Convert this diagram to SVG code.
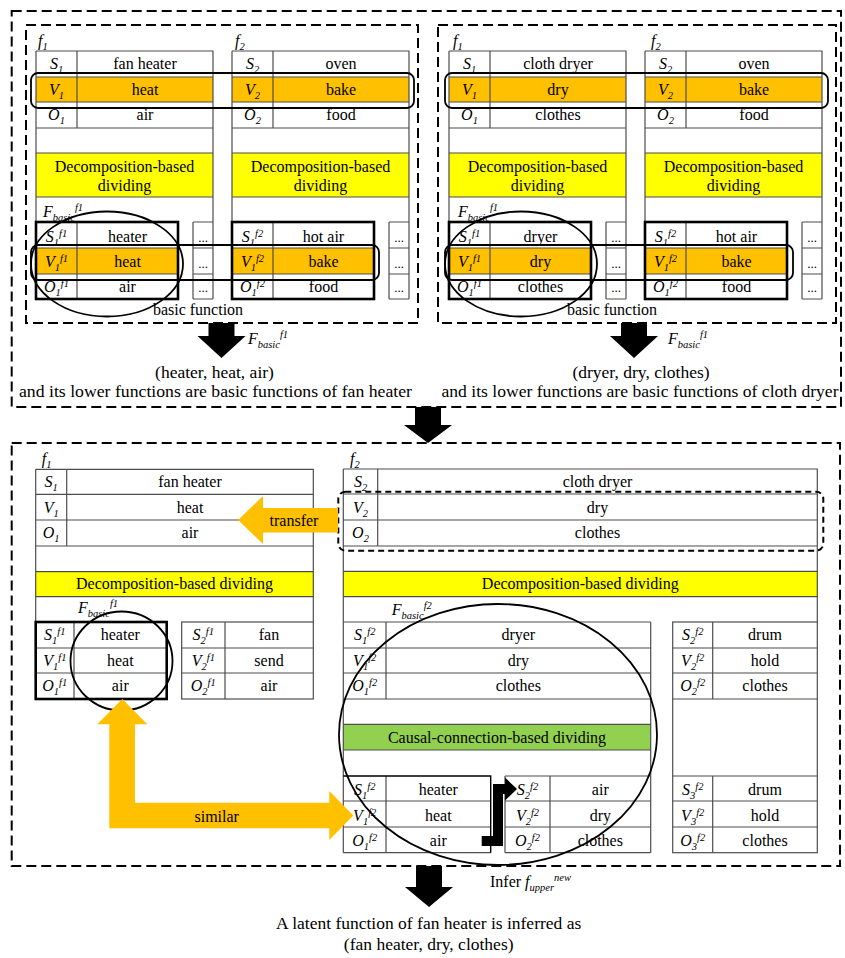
<svg xmlns="http://www.w3.org/2000/svg" width="845" height="958" viewBox="0 0 845 958" font-family="'Liberation Serif', 'Times New Roman', 'DejaVu Serif', serif">
<style>
text{font-family:'Liberation Serif','Times New Roman','DejaVu Serif',serif;font-size:16px;fill:#000;text-anchor:middle}
.it{font-style:italic}
.st{text-anchor:start}
.sm{font-size:10.5px}
.dot{font-size:13px}
.big{font-size:17.5px}
.ln{stroke:#4d4d4d;stroke-width:1.2;fill:none}
.bk{stroke:#000;stroke-width:1.4;fill:none}
.bold{stroke:#000;stroke-width:2.6;fill:none}
.dash{stroke:#000;stroke-width:2;fill:none;stroke-dasharray:10 5}
.dash2{stroke:#000;stroke-width:2;fill:none;stroke-dasharray:6 4}
.rr{stroke:#000;stroke-width:1.8;fill:none}
.or{fill:#FFC000}
.ye{fill:#FFFF00}
.gr{fill:#92D050}
.ring{fill:none;stroke:#000;stroke-width:1.8}
.wh{fill:#fff}
.blk{fill:#000}
</style>
<defs>
<g id="tt">
 <rect x="0" y="0" width="177" height="248" class="wh"/>
 <rect x="0" y="26" width="177" height="25" class="or"/>
 <rect x="0" y="102" width="177" height="44" class="ye"/>
 <rect x="0" y="197" width="142" height="26" class="or"/>
 <path class="ln" d="M0 0H177V248M0 0V248M0 26H177M0 51H177M0 77H177M0 102H177M0 146H177M41 0V77M0 197H142M0 223H142M41 171V248M157 171H177M157 197H177M157 223H177M157 248H177M157 171V248"/>
 <rect x="0" y="171" width="142" height="77" class="bold"/>
</g>
</defs>
<rect x="0" y="0" width="845" height="958" fill="#fff"/>

<g id="frames">
 <rect class="dash" x="11.7" y="11" width="829.3" height="396"/>
 <rect class="dash" x="26" y="25" width="392" height="298"/>
 <rect class="dash" x="438" y="25" width="398" height="298"/>
 <rect class="dash" x="11.7" y="443" width="828.3" height="423"/>
</g>

<!-- top-left panel -->
<g id="tl-labels">
 <text class="it st" x="38" y="46">f<tspan class="sm" dy="4">1</tspan></text>
 <text class="it st" x="235" y="46">f<tspan class="sm" dy="4">2</tspan></text>
</g>
<g id="tl-f1" transform="translate(36,51)">
 <use href="#tt"/>
 <text class="it" x="20.5" y="18">S<tspan class="sm" dy="4">1</tspan></text>
 <text x="109" y="18">fan heater</text>
 <text class="it" x="20.5" y="43.5">V<tspan class="sm" dy="4">1</tspan></text>
 <text x="109" y="43.5">heat</text>
 <text class="it" x="20.5" y="69">O<tspan class="sm" dy="4">1</tspan></text>
 <text x="109" y="69">air</text>
 <text x="88.5" y="120.5">Decomposition-based</text>
 <text x="88.5" y="139.5">dividing</text>
 <text class="it st" x="7" y="165.5">F<tspan class="sm" dy="4">basic</tspan><tspan class="sm" dy="-10">f1</tspan></text>
 <text class="it" x="20.5" y="190.5">S<tspan class="sm" dy="4">1</tspan><tspan class="sm" dy="-9">f1</tspan></text>
 <text x="91.5" y="190.5">heater</text>
 <text class="it" x="20.5" y="216">V<tspan class="sm" dy="4">1</tspan><tspan class="sm" dy="-9">f1</tspan></text>
 <text x="91.5" y="216">heat</text>
 <text class="it" x="20.5" y="240.5">O<tspan class="sm" dy="4">1</tspan><tspan class="sm" dy="-9">f1</tspan></text>
 <text x="91.5" y="240.5">air</text>
 <text class="dot" x="167" y="191">...</text>
 <text class="dot" x="167" y="216.5">...</text>
 <text class="dot" x="167" y="241">...</text>
</g>
<g id="tl-f2" transform="translate(232,51)">
 <use href="#tt"/>
 <text class="it" x="20.5" y="18">S<tspan class="sm" dy="4">2</tspan></text>
 <text x="109" y="18">oven</text>
 <text class="it" x="20.5" y="43.5">V<tspan class="sm" dy="4">2</tspan></text>
 <text x="109" y="43.5">bake</text>
 <text class="it" x="20.5" y="69">O<tspan class="sm" dy="4">2</tspan></text>
 <text x="109" y="69">food</text>
 <text x="88.5" y="120.5">Decomposition-based</text>
 <text x="88.5" y="139.5">dividing</text>
 <text class="it" x="20.5" y="190.5">S<tspan class="sm" dy="4">1</tspan><tspan class="sm" dy="-9">f2</tspan></text>
 <text x="91.5" y="190.5">hot air</text>
 <text class="it" x="20.5" y="216">V<tspan class="sm" dy="4">1</tspan><tspan class="sm" dy="-9">f2</tspan></text>
 <text x="91.5" y="216">bake</text>
 <text class="it" x="20.5" y="240.5">O<tspan class="sm" dy="4">1</tspan><tspan class="sm" dy="-9">f2</tspan></text>
 <text x="91.5" y="240.5">food</text>
 <text class="dot" x="167" y="191">...</text>
 <text class="dot" x="167" y="216.5">...</text>
 <text class="dot" x="167" y="241">...</text>
</g>
<g id="tl-marks">
 <rect class="rr" x="31" y="73" width="383" height="35" rx="7"/>
 <rect class="rr" x="31" y="245" width="348" height="35" rx="7"/>
 <ellipse class="ring" cx="107" cy="264" rx="76" ry="52.5"/>
 <text x="198" y="315">basic function</text>
</g>

<!-- top-right panel -->
<g id="tr-labels">
 <text class="it st" x="453" y="46">f<tspan class="sm" dy="4">1</tspan></text>
 <text class="it st" x="651" y="46">f<tspan class="sm" dy="4">2</tspan></text>
</g>
<g id="tr-f1" transform="translate(449,51)">
 <use href="#tt"/>
 <text class="it" x="20.5" y="18">S<tspan class="sm" dy="4">1</tspan></text>
 <text x="109" y="18">cloth dryer</text>
 <text class="it" x="20.5" y="43.5">V<tspan class="sm" dy="4">1</tspan></text>
 <text x="109" y="43.5">dry</text>
 <text class="it" x="20.5" y="69">O<tspan class="sm" dy="4">1</tspan></text>
 <text x="109" y="69">clothes</text>
 <text x="88.5" y="120.5">Decomposition-based</text>
 <text x="88.5" y="139.5">dividing</text>
 <text class="it st" x="9" y="165.5">F<tspan class="sm" dy="4">basic</tspan><tspan class="sm" dy="-10">f1</tspan></text>
 <text class="it" x="20.5" y="190.5">S<tspan class="sm" dy="4">1</tspan><tspan class="sm" dy="-9">f1</tspan></text>
 <text x="91.5" y="190.5">dryer</text>
 <text class="it" x="20.5" y="216">V<tspan class="sm" dy="4">1</tspan><tspan class="sm" dy="-9">f1</tspan></text>
 <text x="91.5" y="216">dry</text>
 <text class="it" x="20.5" y="240.5">O<tspan class="sm" dy="4">1</tspan><tspan class="sm" dy="-9">f1</tspan></text>
 <text x="91.5" y="240.5">clothes</text>
 <text class="dot" x="167" y="191">...</text>
 <text class="dot" x="167" y="216.5">...</text>
 <text class="dot" x="167" y="241">...</text>
</g>
<g id="tr-f2" transform="translate(645,51)">
 <use href="#tt"/>
 <text class="it" x="20.5" y="18">S<tspan class="sm" dy="4">2</tspan></text>
 <text x="109" y="18">oven</text>
 <text class="it" x="20.5" y="43.5">V<tspan class="sm" dy="4">2</tspan></text>
 <text x="109" y="43.5">bake</text>
 <text class="it" x="20.5" y="69">O<tspan class="sm" dy="4">2</tspan></text>
 <text x="109" y="69">food</text>
 <text x="88.5" y="120.5">Decomposition-based</text>
 <text x="88.5" y="139.5">dividing</text>
 <text class="it" x="20.5" y="190.5">S<tspan class="sm" dy="4">1</tspan><tspan class="sm" dy="-9">f2</tspan></text>
 <text x="91.5" y="190.5">hot air</text>
 <text class="it" x="20.5" y="216">V<tspan class="sm" dy="4">1</tspan><tspan class="sm" dy="-9">f2</tspan></text>
 <text x="91.5" y="216">bake</text>
 <text class="it" x="20.5" y="240.5">O<tspan class="sm" dy="4">1</tspan><tspan class="sm" dy="-9">f2</tspan></text>
 <text x="91.5" y="240.5">food</text>
 <text class="dot" x="167" y="191">...</text>
 <text class="dot" x="167" y="216.5">...</text>
 <text class="dot" x="167" y="241">...</text>
</g>
<g id="tr-marks">
 <rect class="rr" x="445" y="73" width="383" height="35" rx="7"/>
 <rect class="rr" x="445" y="245" width="348" height="35" rx="7"/>
 <ellipse class="ring" cx="521" cy="264" rx="76" ry="52.5"/>
 <text x="612" y="315">basic function</text>
</g>

<!-- middle results -->
<g id="mid-left">
 <text class="it st" x="248" y="344">F<tspan class="sm" dy="4">basic</tspan><tspan class="sm" dy="-10">f1</tspan></text>
 <text class="big" x="214.5" y="378">(heater, heat, air)</text>
 <text class="big" x="215.5" y="396.5" textLength="393" lengthAdjust="spacingAndGlyphs">and its lower functions are basic functions of fan heater</text>
</g>
<g id="mid-right">
 <text class="it st" x="668" y="344">F<tspan class="sm" dy="4">basic</tspan><tspan class="sm" dy="-10">f1</tspan></text>
 <text class="big" x="641" y="378">(dryer, dry, clothes)</text>
 <text class="big" x="640" y="396.5" textLength="397" lengthAdjust="spacingAndGlyphs">and its lower functions are basic functions of cloth dryer</text>
</g>

<!-- bottom left f1 -->
<g id="b-f1">
 <text class="it st" x="41.7" y="464">f<tspan class="sm" dy="4">1</tspan></text>
 <rect x="35.7" y="571.7" width="277.6" height="25" class="ye"/>
 <path class="ln" d="M35.7 469.3H313.3V622M35.7 469.3V622M35.7 494.3H313.3M35.7 520H313.3M35.7 546H313.3M35.7 571.7H313.3M35.7 596.7H313.3M66.7 469.3V546"/>
 <path class="ln" d="M35.7 648H166.7M35.7 673H166.7M74 622V699"/>
 <rect class="ln" x="181.7" y="622" width="131.6" height="77"/>
 <path class="ln" d="M181.7 648H313.3M181.7 673H313.3M225 622V699"/>
 <rect class="bold" x="35.7" y="622" width="131" height="77"/>
 <text class="it" x="51.2" y="486.7">S<tspan class="sm" dy="4">1</tspan></text>
 <text x="190" y="486.7">fan heater</text>
 <text class="it" x="51.2" y="512.7">V<tspan class="sm" dy="4">1</tspan></text>
 <text x="190" y="512.7">heat</text>
 <text class="it" x="51.2" y="538.3">O<tspan class="sm" dy="4">1</tspan></text>
 <text x="190" y="538.3">air</text>
 <text x="174.5" y="589.3">Decomposition-based dividing</text>
 <text class="it st" x="78" y="613">F<tspan class="sm" dy="4">basic</tspan><tspan class="sm" dy="-10">f1</tspan></text>
 <text class="it" x="54.8" y="640">S<tspan class="sm" dy="4">1</tspan><tspan class="sm" dy="-9">f1</tspan></text>
 <text x="120.3" y="640">heater</text>
 <text class="it" x="54.8" y="666">V<tspan class="sm" dy="4">1</tspan><tspan class="sm" dy="-9">f1</tspan></text>
 <text x="120.3" y="666">heat</text>
 <text class="it" x="54.8" y="690.7">O<tspan class="sm" dy="4">1</tspan><tspan class="sm" dy="-9">f1</tspan></text>
 <text x="120.3" y="690.7">air</text>
 <text class="it" x="203.3" y="640">S<tspan class="sm" dy="4">2</tspan><tspan class="sm" dy="-9">f1</tspan></text>
 <text x="269" y="640">fan</text>
 <text class="it" x="203.3" y="666">V<tspan class="sm" dy="4">2</tspan><tspan class="sm" dy="-9">f1</tspan></text>
 <text x="269" y="666">send</text>
 <text class="it" x="203.3" y="690.7">O<tspan class="sm" dy="4">2</tspan><tspan class="sm" dy="-9">f1</tspan></text>
 <text x="269" y="690.7">air</text>
</g>

<!-- bottom right f2 -->
<g id="b-f2">
 <text class="it st" x="350" y="464">f<tspan class="sm" dy="4">2</tspan></text>
 <rect x="343.3" y="571.3" width="474" height="25.4" class="ye"/>
 <path class="ln" d="M343.3 469H817.3V622M343.3 469V622M343.3 494H817.3M343.3 520H817.3M343.3 546H817.3M343.3 571.3H817.3M343.3 596.7H817.3M377.7 469V546"/>
 <rect x="343.3" y="724.3" width="307.4" height="25.7" class="gr"/>
 <path class="ln" d="M343.3 622V852.7M650.7 622V852.7M343.3 622H650.7M343.3 648H650.7M343.3 673H650.7M343.3 699H650.7M386 622V699M343.3 724.3H650.7M343.3 750H650.7"/>
 <path class="ln" d="M343.3 801H490.7M343.3 827H490.7M386 776V852.7M343.3 852.7H490.7"/>
 <path class="bk" d="M343.3 776H490.7V852.7"/>
 <path class="ln" d="M505 776H650.7M505 801H650.7M505 827H650.7M505 852.7H650.7M505 776V852.7M550 776V852.7"/>
 <rect class="ln" x="672.7" y="622" width="144.6" height="230.7"/>
 <path class="ln" d="M672.7 648H817.3M672.7 673H817.3M672.7 699H817.3M712.7 622V699M672.7 776H817.3M672.7 801H817.3M672.7 827H817.3M712.7 776V852.7"/>
 <text class="it" x="360.5" y="486.7">S<tspan class="sm" dy="4">2</tspan></text>
 <text x="597.5" y="486.7">cloth dryer</text>
 <text class="it" x="360.5" y="512.7">V<tspan class="sm" dy="4">2</tspan></text>
 <text x="597.5" y="512.7">dry</text>
 <text class="it" x="360.5" y="538.3">O<tspan class="sm" dy="4">2</tspan></text>
 <text x="597.5" y="538.3">clothes</text>
 <text x="580.3" y="589.3">Decomposition-based dividing</text>
 <text class="it st" x="391.7" y="615">F<tspan class="sm" dy="4">basic</tspan><tspan class="sm" dy="-10">f2</tspan></text>
 <text class="it" x="364.7" y="640">S<tspan class="sm" dy="4">1</tspan><tspan class="sm" dy="-9">f2</tspan></text>
 <text x="518.3" y="640">dryer</text>
 <text class="it" x="364.7" y="666">V<tspan class="sm" dy="4">1</tspan><tspan class="sm" dy="-9">f2</tspan></text>
 <text x="518.3" y="666">dry</text>
 <text class="it" x="364.7" y="690.7">O<tspan class="sm" dy="4">1</tspan><tspan class="sm" dy="-9">f2</tspan></text>
 <text x="518.3" y="690.7">clothes</text>
 <text class="it" x="692.7" y="640">S<tspan class="sm" dy="4">2</tspan><tspan class="sm" dy="-9">f2</tspan></text>
 <text x="765" y="640">drum</text>
 <text class="it" x="692.7" y="666">V<tspan class="sm" dy="4">2</tspan><tspan class="sm" dy="-9">f2</tspan></text>
 <text x="765" y="666">hold</text>
 <text class="it" x="692.7" y="690.7">O<tspan class="sm" dy="4">2</tspan><tspan class="sm" dy="-9">f2</tspan></text>
 <text x="765" y="690.7">clothes</text>
 <text x="497" y="743.3">Causal-connection-based dividing</text>
 <text class="it" x="364.7" y="795">S<tspan class="sm" dy="4">1</tspan><tspan class="sm" dy="-9">f2</tspan></text>
 <text x="438.3" y="795">heater</text>
 <text class="it" x="364.7" y="820.5">V<tspan class="sm" dy="4">1</tspan><tspan class="sm" dy="-9">f2</tspan></text>
 <text x="438.3" y="820.5">heat</text>
 <text class="it" x="364.7" y="846">O<tspan class="sm" dy="4">1</tspan><tspan class="sm" dy="-9">f2</tspan></text>
 <text x="438.3" y="846">air</text>
 <text class="it" x="527.5" y="795">S<tspan class="sm" dy="4">2</tspan><tspan class="sm" dy="-9">f2</tspan></text>
 <text x="600.3" y="795">air</text>
 <text class="it" x="527.5" y="820.5">V<tspan class="sm" dy="4">2</tspan><tspan class="sm" dy="-9">f2</tspan></text>
 <text x="600.3" y="820.5">dry</text>
 <text class="it" x="527.5" y="846">O<tspan class="sm" dy="4">2</tspan><tspan class="sm" dy="-9">f2</tspan></text>
 <text x="600.3" y="846">clothes</text>
 <text class="it" x="692.7" y="795">S<tspan class="sm" dy="4">3</tspan><tspan class="sm" dy="-9">f2</tspan></text>
 <text x="765" y="795">drum</text>
 <text class="it" x="692.7" y="820.5">V<tspan class="sm" dy="4">3</tspan><tspan class="sm" dy="-9">f2</tspan></text>
 <text x="765" y="820.5">hold</text>
 <text class="it" x="692.7" y="846">O<tspan class="sm" dy="4">3</tspan><tspan class="sm" dy="-9">f2</tspan></text>
 <text x="765" y="846">clothes</text>
</g>

<g id="b-marks">
 <rect class="dash2" x="338.3" y="491.7" width="485" height="59" rx="7"/>
 <ellipse class="ring" cx="121.5" cy="661" rx="51" ry="49.5"/>
 <ellipse class="ring" cx="498" cy="734.5" rx="159" ry="130.5"/>
</g>

<g id="connectors">
 <polygon class="blk" points="208.5,323 234.5,323 234.5,336 245.5,336 221.5,358 197.5,336 208.5,336"/>
 <polygon class="blk" points="621,323 647,323 647,336 658,336 634,358 610,336 621,336"/>
 <polygon class="blk" points="415,407 441,407 441,425 452,425 428,443 404,425 415,425"/>
 <polygon class="blk" points="416,866 442,866 442,887 453,887 429,907 405,887 416,887"/>
 <polygon class="or" points="238,520 263,496 263,508 338,508 338,532.5 263,532.5 263,544"/>
 <text x="294" y="526">transfer</text>
 <polygon class="or" points="122.3,699 147.3,724.3 135,724.3 135,802.7 329.3,802.7 329.3,791 353.3,815.5 329.3,840 329.3,828.3 109.3,828.3 109.3,724.3 97.3,724.3"/>
 <text x="216.7" y="821.5">similar</text>
 <path d="M481.7 841H498V789H506" fill="none" stroke="#000" stroke-width="10" stroke-linejoin="miter"/>
 <polygon class="blk" points="505,777.5 517,789 505,800.5"/>
</g>

<g id="result">
 <text class="st" x="490" y="887">Infer <tspan class="it">f</tspan><tspan class="it sm" dy="4">upper</tspan><tspan class="it sm" dy="-10">new</tspan></text>
 <text class="big" x="428.7" y="929">A latent function of fan heater is inferred as</text>
 <text class="big" x="428.7" y="950">(fan heater, dry, clothes)</text>
</g>
</svg>
